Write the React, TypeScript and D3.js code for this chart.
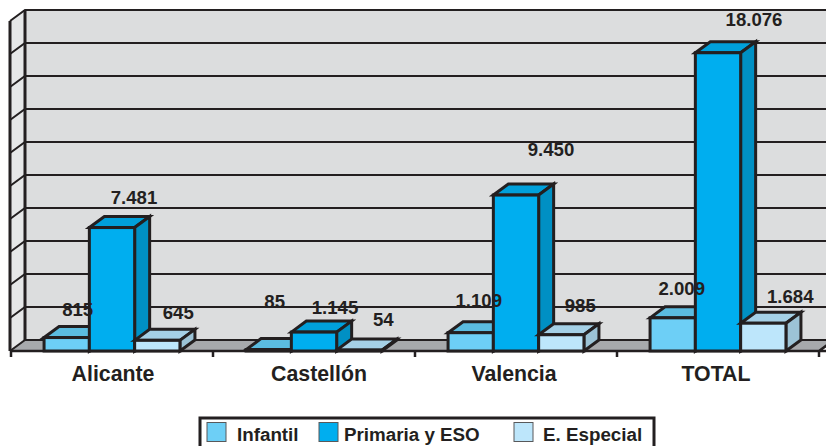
import { useEffect, useRef } from "react";
import * as d3 from "d3";

const categories = ["Alicante", "Castellón", "Valencia", "TOTAL"];
const seriesNames = ["Infantil", "Primaria y ESO", "E. Especial"];
const infantil = [815, 85, 1109, 2009];
const primaria = [7481, 1145, 9450, 18076];
const especial = [645, 54, 985, 1684];
const seriesValues = [infantil, primaria, especial];

// colours per series: front, top, side
const seriesColors = [
  ["#6dcff6", "#5bbce0", "#55a9c9"],
  ["#00aeef", "#00a0db", "#0090c4"],
  ["#bde6fb", "#a5d0e6", "#9cc3d6"],
];

// labels were placed by hand in the original, so they carry their own nudges
const labelDx = [
  [11, 6, 8, 9],
  [22, 21, 35, 36],
  [21, 24, 19, 27],
];
const labelDy = [
  [-22, -42, -26, -23],
  [-24, -18, -39, -27],
  [-21, -24, -23, -20],
];
const categoryDx = [1, 5, -2, -2];

const legendSwatchX = [207, 319, 514];
const legendTextX = [237, 344, 543];

const ink = "#231f20";
const fontFamily = "'Liberation Sans', Arial, sans-serif";

export default function App() {
  const svgRef = useRef<SVGSVGElement>(null);

  useEffect(() => {
    const svg = d3.select(svgRef.current);
    svg.selectAll("*").remove();

    const depthX = 15;
    const depthY = -11;
    const baseY = 351;

    const x0 = d3.scaleBand().domain(categories).range([11, 819]);
    const x1 = d3
      .scaleBand()
      .domain(seriesNames)
      .range([0, x0.bandwidth()])
      .paddingInner(0)
      .paddingOuter(0.73);
    const y = d3.scaleLinear().domain([0, 20000]).range([baseY, 21]);

    const plot = svg.append("g");
    const yTicks = y.ticks(10);

    // back wall
    plot
      .append("rect")
      .attr("x", 25)
      .attr("y", y(20000) + depthY)
      .attr("width", 826)
      .attr("height", baseY - y(20000))
      .attr("fill", "#dcddde");
    // left wall
    plot
      .append("polygon")
      .attr(
        "points",
        [
          [10, y(20000)],
          [10 + depthX, y(20000) + depthY],
          [10 + depthX, baseY + depthY],
          [10, baseY],
        ].join(" ")
      )
      .attr("fill", "#e6e7e8");
    // floor
    plot
      .append("polygon")
      .attr(
        "points",
        [
          [10, baseY],
          [10 + depthX, baseY + depthY],
          [826 + depthX, baseY + depthY],
          [819, baseY],
        ].join(" ")
      )
      .attr("fill", "#a7a9ac");

    // gridlines on both walls
    plot
      .append("g")
      .selectAll("path")
      .data(yTicks)
      .join("path")
      .attr("fill", "none")
      .attr("stroke", ink)
      .attr("stroke-width", 2)
      .attr(
        "d",
        (d) =>
          `M10,${y(d)}L${10 + depthX},${y(d) + depthY}L826,${y(d) + depthY}`
      );

    // left wall verticals
    [10, 10 + depthX].forEach((xv, i) => {
      plot
        .append("line")
        .attr("x1", xv)
        .attr("x2", xv)
        .attr("y1", y(20000) + (i ? depthY : 0))
        .attr("y2", baseY + (i ? depthY : 0))
        .attr("stroke", ink)
        .attr("stroke-width", 3);
    });

    // floor front edge and the ticks under it
    plot
      .append("path")
      .attr("fill", "none")
      .attr("stroke", ink)
      .attr("stroke-width", 2.5)
      .attr("d", `M10,${baseY}L826,${baseY}M819,${baseY}L${819 + depthX},${baseY + depthY}`);
    const edges = [...categories.map((c) => x0(c)), x0.range()[1]];
    plot
      .append("g")
      .selectAll("line")
      .data(edges)
      .join("line")
      .attr("x1", (d) => d)
      .attr("x2", (d) => d)
      .attr("y1", baseY)
      .attr("y2", baseY + 6)
      .attr("stroke", ink)
      .attr("stroke-width", 2.5);

    // bars, back to front within each group
    categories.forEach((cat, c) => {
      seriesNames.forEach((name, s) => {
        const v = seriesValues[s][c];
        const left = x0(cat) + x1(name);
        const right = left + x1.bandwidth();
        const top = y(v);
        const [front, topFace, side] = seriesColors[s];
        const bar = plot.append("g").attr("stroke", ink).attr("stroke-width", 3).attr("stroke-linejoin", "miter");
        bar
          .append("polygon")
          .attr(
            "points",
            [
              [left, top],
              [left + depthX, top + depthY],
              [right + depthX, top + depthY],
              [right, top],
            ].join(" ")
          )
          .attr("fill", topFace);
        bar
          .append("polygon")
          .attr(
            "points",
            [
              [right, top],
              [right + depthX, top + depthY],
              [right + depthX, baseY + depthY],
              [right, baseY],
            ].join(" ")
          )
          .attr("fill", side);
        bar
          .append("rect")
          .attr("x", left)
          .attr("y", top)
          .attr("width", right - left)
          .attr("height", baseY - top)
          .attr("fill", front);
      });
    });

    // value labels, in the Spanish thousands format
    const fmt = d3.format(",");
    categories.forEach((cat, c) => {
      seriesNames.forEach((name, s) => {
        const v = seriesValues[s][c];
        plot
          .append("text")
          .attr("x", x0(cat) + x1(name) + x1.bandwidth() / 2 + labelDx[s][c])
          .attr("y", y(v) + labelDy[s][c])
          .attr("text-anchor", "middle")
          .attr("font-family", fontFamily)
          .attr("font-weight", "bold")
          .attr("font-size", 18.6)
          .attr("fill", ink)
          .text(fmt(v).replace(",", "."));
      });
    });

    // category labels
    const axis = plot
      .append("g")
      .attr("transform", `translate(0,${baseY + 10})`)
      .call(d3.axisBottom(x0).tickSize(0).tickPadding(0));
    axis.select(".domain").remove();
    axis
      .selectAll("text")
      .attr("x", (_, i) => categoryDx[i])
      .attr("dy", "0.93em")
      .attr("font-family", fontFamily)
      .attr("font-weight", "bold")
      .attr("font-size", 21.3)
      .attr("fill", ink);

    // legend
    const legend = svg.append("g");
    legend
      .append("rect")
      .attr("x", 200)
      .attr("y", 418)
      .attr("width", 454)
      .attr("height", 40)
      .attr("fill", "#fff")
      .attr("stroke", ink)
      .attr("stroke-width", 3);
    seriesNames.forEach((name, s) => {
      legend
        .append("rect")
        .attr("x", legendSwatchX[s])
        .attr("y", 422.5)
        .attr("width", 19)
        .attr("height", 19)
        .attr("fill", seriesColors[s][0])
        .attr("stroke", "#58595b")
        .attr("stroke-width", 1);
      legend
        .append("text")
        .attr("x", legendTextX[s])
        .attr("y", 441)
        .attr("font-family", fontFamily)
        .attr("font-weight", "bold")
        .attr("font-size", 18.8)
        .attr("fill", ink)
        .text(name);
    });
  }, []);

  return (
    <svg
      ref={svgRef}
      width={826}
      height={446}
      style={{ position: "absolute", left: 0, top: 0, display: "block", background: "#fff" }}
    />
  );
}
